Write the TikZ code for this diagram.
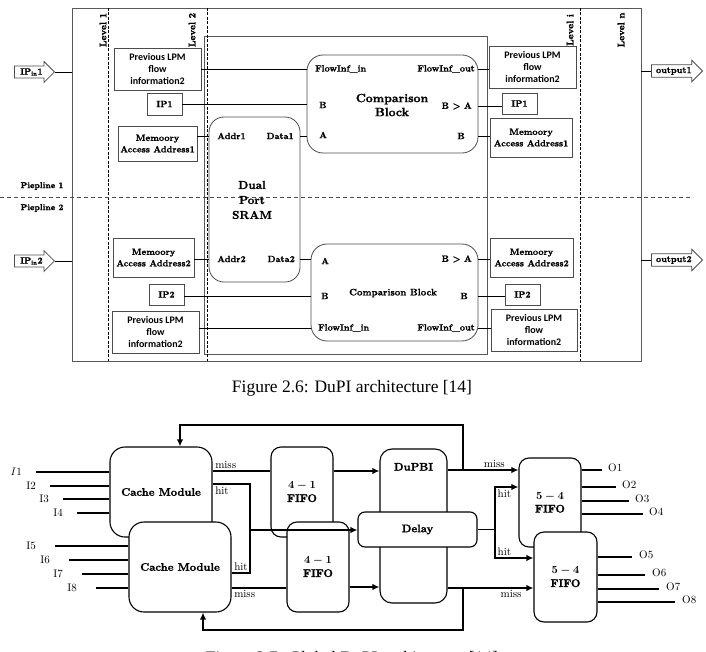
\documentclass[tikz,border=0pt]{standalone}
\usepackage{fontspec}
\usepackage{amsmath}
\setmainfont{lmroman10-regular.otf}[BoldFont=lmroman10-bold.otf, BoldFeatures={FakeBold=1.3}, ItalicFont=lmroman10-italic.otf, BoldItalicFont=lmroman10-bolditalic.otf]
\newfontfamily\capfont{Liberation Serif}
\newfontfamily\lpmfont{Carlito}
\usetikzlibrary{shapes.arrows, arrows.meta, positioning}

\tikzset{
  >={Latex[length=7pt,width=6.5pt]},
  frame/.style={draw=black!65, line width=0.9pt, inner sep=0pt},
  levelline/.style={line width=1pt, dash pattern=on 3pt off 1.5pt},
  pipeline/.style={draw=black!70, line width=0.7pt, dash pattern=on 4pt off 3pt},
  link/.style={line width=0.9pt},
  lbl/.style={font=\bfseries\fontsize{8.5}{10}\selectfont, inner sep=1pt},
  port/.style={font=\bfseries\fontsize{9}{10}\selectfont, inner sep=1pt},
  regbox/.style={draw=black!70, line width=0.8pt, align=center, inner sep=1pt, font=\bfseries\fontsize{9}{11.5}\selectfont},
  lpmbox/.style={regbox, font=\lpmfont\bfseries\fontsize{10}{12}\selectfont},
  roundbox/.style={draw=black!70, line width=0.8pt, rounded corners=15pt, align=center, inner sep=1pt},
  ioarrow/.style={draw=black!70, line width=0.8pt, single arrow, single arrow head extend=4.5pt, inner xsep=2pt, inner ysep=2pt, font=\bfseries\fontsize{9}{10}\selectfont},
  unit/.style={draw, fill=white, line width=1.1pt, align=center, inner sep=1pt, font=\bfseries\fontsize{11}{13}\selectfont},
  wire/.style={line width=1.4pt},
  sig/.style={font=\fontsize{11}{13}\selectfont, inner sep=2pt},
  caption/.style={font=\capfont\fontsize{17.5}{20}\selectfont, inner sep=0pt},
}

\begin{document}
\begin{tikzpicture}[x=1pt, y=-1pt]
  \useasboundingbox (0,0) rectangle (706,652);

  % DuPI architecture
  \node [frame, minimum width=569pt, minimum height=353pt] (frame) at (356.5,184.5) {};
  \node [frame, minimum width=283pt, minimum height=318pt] (stage) at (345.5,195) {};
  \foreach \x in {108, 207, 580}
    \draw [levelline] (\x,0 |- frame.north) -- (\x,0 |- frame.south);
  \foreach \lx/\lev in {103/1, 192/2, 570/i, 621/n}
    \node [lbl, font=\bfseries\fontsize{9.5}{10}\selectfont, rotate=90] at (\lx,30) {Level \lev};
  \draw [pipeline] (0,197) -- (693,197);
  \node [lbl] (pipeA) at (42,186) {Piepline 1};
  \node [lbl] (pipeB) at (42,208) {Piepline 2};

  \node [ioarrow, minimum height=40pt, anchor=east] (ipinA) at (55,72) {IP\textsubscript{in}1};
  \node [ioarrow, minimum height=40pt, anchor=east] (ipinB) at (55,261) {IP\textsubscript{in}2};
  \draw [link] (ipinA.east) -- (ipinA.east -| frame.west);
  \draw [link] (ipinB.east) -- (ipinB.east -| frame.west);
  \node [ioarrow, minimum height=51pt, anchor=east] (outA) at (703,71) {output1};
  \node [ioarrow, minimum height=51pt, anchor=east] (outB) at (703,260) {output2};
  \draw [link] (outA.west -| frame.east) -- (outA.west);
  \draw [link] (outB.west -| frame.east) -- (outB.west);

  % pipeline 1
  \node [lpmbox, minimum width=87pt, minimum height=42pt] (lprevA) at (157.5,69) {Previous LPM\\flow\\information2};
  \node [regbox, minimum width=35pt, minimum height=22pt] (lipA) at (164.5,104) {IP1};
  \node [regbox, minimum width=79pt, minimum height=35pt] (lmemA) at (157.5,143.5) {Memoory\\Access Address1};
  \node [roundbox, minimum width=91pt, minimum height=165pt] (sram) at (254.5,199.5) {};
  \node [font=\bfseries\fontsize{11.5}{15}\selectfont, align=center] (sramname) at (252,200) {Dual\\Port\\SRAM};
  \node [roundbox, rounded corners=16pt, minimum width=171pt, minimum height=98pt] (compA) at (392.5,104) {};
  \node [font=\bfseries\fontsize{12}{14}\selectfont, align=center] (compAname) at (392,105) {Comparison\\Block};
  \node [regbox, lpmbox, minimum width=87pt, minimum height=42pt] (rprevA) at (532.5,67) {Previous LPM\\flow\\information2};
  \node [regbox, minimum width=35pt, minimum height=21pt] (ripA) at (519.5,103.5) {IP1};
  \node [regbox, minimum width=82pt, minimum height=39pt] (rmemA) at (531,137.5) {Memoory\\Access Address1};

  \node [port, anchor=west] (addrA) at (216,136) {Addr1};
  \node [port, anchor=east] (dataA) at (295,136) {Data1};
  \node [port, anchor=west] (flowinA) at (314,69) {FlowInf\_in};
  \node [port, anchor=west] (portbA) at (318,105) {B};
  \node [port, anchor=west] (portaA) at (318,135) {A};
  \node [port, anchor=east] (flowoutA) at (476,69) {FlowInf\_out};
  \node [port, anchor=east] (gtA) at (473,106) {B > A};
  \node [port, anchor=east] (portrA) at (466,136) {B};

  \draw [link] (lprevA.east) -- (lprevA.east -| compA.west);
  \draw [link] (lipA.east) -- (lipA.east -| compA.west);
  \draw [link] (lmemA.east |- addrA) -- (addrA -| sram.west);
  \draw [link] (dataA -| sram.east) -- (dataA -| compA.west);
  \draw [link] (flowoutA -| compA.east) -- (flowoutA -| rprevA.west);
  \draw [link] (gtA -| compA.east) -- (gtA -| ripA.west);
  \draw [link] (portrA -| compA.east) -- (portrA -| rmemA.west);

  % pipeline 2
  \node [regbox, minimum width=81pt, minimum height=39pt] (lmemB) at (153.5,257.5) {Memoory\\Access Address2};
  \node [regbox, minimum width=35pt, minimum height=21pt] (lipB) at (166.5,294.5) {IP2};
  \node [lpmbox, minimum width=87pt, minimum height=42pt] (lprevB) at (155.5,332) {Previous LPM\\flow\\information2};
  \node [roundbox, rounded corners=16pt, minimum width=167pt, minimum height=97pt] (compB) at (394.5,292.5) {};
  \node [font=\bfseries\fontsize{9.5}{11}\selectfont] (compBname) at (393,293) {Comparison Block};
  \node [regbox, minimum width=83pt, minimum height=39pt] (rmemB) at (531.5,257.5) {Memoory\\Access Address2};
  \node [regbox, minimum width=35pt, minimum height=21pt] (ripB) at (522.5,294.5) {IP2};
  \node [lpmbox, minimum width=86pt, minimum height=42pt] (rprevB) at (534,330) {Previous LPM\\flow\\information2};

  \node [port, anchor=west] (addrB) at (216,259) {Addr2};
  \node [port, anchor=east] (dataB) at (296,259) {Data2};
  \node [port, anchor=west] (portaB) at (320,261) {A};
  \node [port, anchor=west] (portbB) at (320,296) {B};
  \node [port, anchor=west] (flowinB) at (317,328) {FlowInf\_in};
  \node [port, anchor=east] (gtB) at (473,259) {B > A};
  \node [port, anchor=east] (portrB) at (469,296) {B};
  \node [port, anchor=east] (flowoutB) at (476,328) {FlowInf\_out};

  \draw [link] (lmemB.east |- addrB) -- (addrB -| sram.west);
  \draw [link] (dataB -| sram.east) -- (dataB -| compB.west);
  \draw [link] (lipB.east |- portbB) -- (portbB -| compB.west);
  \draw [link] (lprevB.east |- flowinB) -- (flowinB -| compB.west);
  \draw [link] (gtB -| compB.east) -- (gtB -| rmemB.west);
  \draw [link] (portrB -| compB.east) -- (portrB -| ripB.west);
  \draw [link] (flowoutB -| compB.east) -- (flowoutB -| rprevB.west);

  \node [caption, anchor=base] (capA) at (352,392) {Figure 2.6: DuPI architecture [14]};

  % Global DuPI architecture
  \node [unit, rounded corners=15pt, minimum width=102pt, minimum height=90pt] (cacheA) at (161,492) {Cache Module};
  \node [unit, rounded corners=15pt, minimum width=102pt, minimum height=90pt] (cacheB) at (180,567) {Cache Module};
  \node [unit, rounded corners=10pt, minimum width=62pt, minimum height=90pt] (fifoA) at (302,492) {{\boldmath$4-1$}\\FIFO};
  \node [unit, rounded corners=10pt, minimum width=62pt, minimum height=90pt] (fifoB) at (318,567) {{\boldmath$4-1$}\\FIFO};
  \node [unit, rounded corners=12pt, minimum width=67pt, minimum height=154pt] (dupbi) at (413.5,526) {};
  \node [unit, draw=none, fill=none, below=13pt of dupbi.north] (dupbiname) {DuPBI};
  \node [unit, rounded corners=7pt, minimum width=119pt, minimum height=35pt] (delay) at (417.5,529.5) {Delay};
  \node [unit, rounded corners=10pt, minimum width=62pt, minimum height=89pt] (fifoC) at (550,502.5) {{\boldmath$5-4$}\\FIFO};
  \node [unit, rounded corners=10pt, minimum width=63pt, minimum height=90pt] (fifoD) at (565.5,577) {{\boldmath$5-4$}\\FIFO};

  \foreach \n/\txt/\x/\y/\gap in {1/{$I$1}/36/472/12, 2/I2/50/486/12, 3/I3/63/499/12, 4/I4/77/513/12}{
    \coordinate (in\n) at (\x,\y);
    \node [sig, left=\gap pt of in\n] {\txt};
    \draw [wire] (in\n) -- (in\n -| cacheA.west);
  }
  \foreach \n/\x/\y in {5/55/546, 6/69/560, 7/82/574, 8/96/588}{
    \coordinate (in\n) at (\x,\y);
    \node [sig, left=17pt of in\n] {I\n};
    \draw [wire] (in\n) -- (in\n -| cacheB.west);
  }

  \draw [wire] (cacheA.east |- 0,471) node [sig, above right] {miss} -- (fifoA.west |- 0,471);
  \coordinate (hitjoin) at (250,530);
  \draw [wire] (cacheA.east |- 0,484) node [sig, below right] {hit} -| (hitjoin) |- (cacheB.east |- 0,573) node [sig, above right] {hit};
  \draw [wire] (cacheB.east |- 0,588) node [sig, below right] {miss} -- (fifoB.west |- 0,588);
  \draw [wire, ->] (hitjoin) -- (hitjoin -| delay.west);
  \draw [wire, ->] (fifoA.east |- 0,471) -- (dupbi.west |- 0,471);
  \draw [wire, ->] (fifoB.east |- 0,587) -- (dupbi.west |- 0,587);

  \draw [wire, ->] (dupbi.east |- 0,470) -- node [sig, above, pos=.66] {miss} (fifoC.west |- 0,470);
  \draw [wire, ->] (dupbi.east |- 0,588) -- node [sig, below, pos=.74] {miss} (fifoD.west |- 0,588);
  \coordinate (missjoinA) at (463,470);
  \coordinate (missjoinB) at (463,588);
  \draw [wire, ->] (missjoinA) |- (180,425) -- (180,0 |- cacheA.north);
  \draw [wire, ->] (missjoinB) |- (203,630) -- (203,0 |- cacheB.south);

  \coordinate (dsplit) at (495,529.5);
  \draw [wire] (delay.east) -- (dsplit);
  \draw [wire, ->] (dsplit) |- node [sig, pos=.5, below right] {hit} (fifoC.west |- 0,487);
  \draw [wire, ->] (dsplit) |- node [sig, pos=.5, above right] {hit} (fifoD.west |- 0,558);

  \foreach \n/\y/\x in {1/470/602, 2/487/616, 3/501/629, 4/514/643}{
    \coordinate (out\n) at (\x,\y);
    \draw [wire] (fifoC.east |- out\n) -- (out\n);
    \node [sig, right=4pt of out\n, yshift=2pt] {O\n};
  }
  \foreach \n/\y/\x in {5/557/632, 6/575/645, 7/589/659, 8/602/675}{
    \coordinate (out\n) at (\x,\y);
    \draw [wire] (fifoD.east |- out\n) -- (out\n);
    \node [sig, right=5pt of out\n, yshift=2pt] {O\n};
  }

  \node [caption, anchor=base] (capB) at (352,663) {Figure 2.7: Global DuPI architecture [14]};
\end{tikzpicture}
\end{document}
